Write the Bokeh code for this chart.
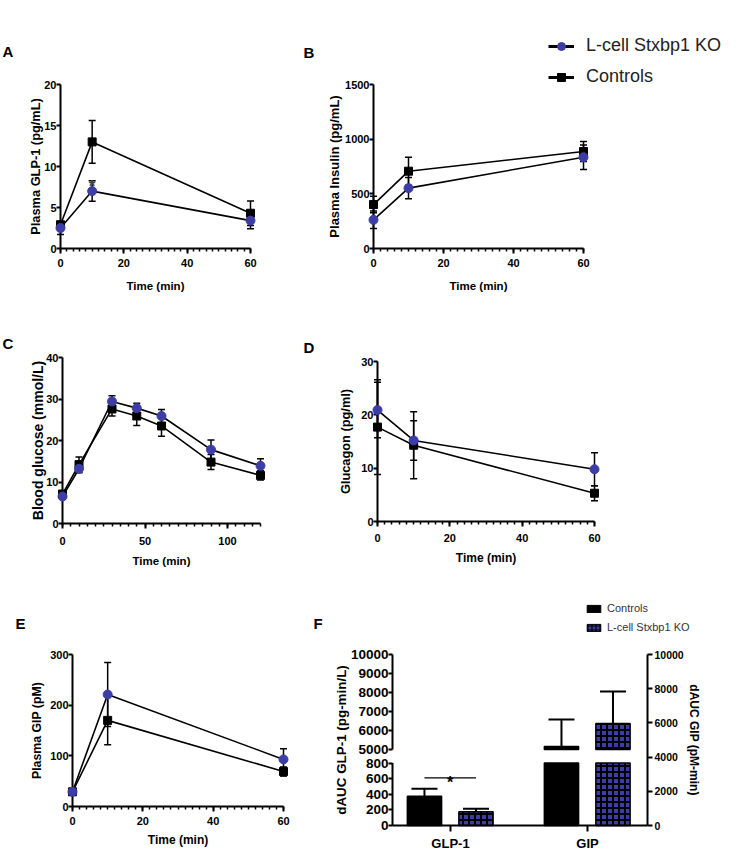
from bokeh.plotting import figure
from bokeh.layouts import column, row
from bokeh.models import (Range1d, SingleIntervalTicker, FixedTicker, Whisker, TeeHead, Label,
                          Legend, LegendItem, ColumnDataSource, LinearAxis)
from bokeh.embed import file_html
from bokeh.resources import INLINE

# ---------------- data ----------------
groups = ["L-cell Stxbp1 KO", "Controls"]
time_short = [0, 10, 60]
time_glucose = [0, 10, 30, 45, 60, 90, 120]

glp1_ko = [2.5, 7.0, 3.4]
glp1_ko_sem = [0.8, 1.25, 1.0]
glp1_ctrl = [2.9, 13.0, 4.3]
glp1_ctrl_sem = [0.3, 2.6, 1.5]

insulin_ko = [262, 552, 835]
insulin_ko_sem = [80, 98, 112]
insulin_ctrl = [402, 707, 887]
insulin_ctrl_sem = [76, 128, 92]

glucose_ko = [6.5, 13.2, 29.4, 27.8, 25.9, 17.8, 13.9]
glucose_ko_sem = [0.6, 1.0, 1.4, 1.2, 1.6, 2.3, 1.7]
glucose_ctrl = [7.1, 14.2, 27.6, 25.9, 23.5, 14.8, 11.6]
glucose_ctrl_sem = [0.5, 1.8, 1.7, 2.3, 2.5, 1.8, 1.1]

glucagon_ko = [20.9, 15.2, 9.8]
glucagon_ko_sem = [5.2, 3.7, 3.1]
glucagon_ctrl = [17.7, 14.3, 5.3]
glucagon_ctrl_sem = [8.9, 6.3, 1.4]

gip_ko = [29, 221, 93]
gip_ko_sem = [3, 63, 21]
gip_ctrl = [29, 170, 69]
gip_ctrl_sem = [3, 48, 9]

auc_categories = ["GLP-1", "GIP"]
auc_axis = ["left", "right"]
auc_ctrl = [375, 4620]
auc_ctrl_sem = [95, 1580]
auc_ko = [175, 5960]
auc_ko_sem = [40, 1870]
glp1_auc_sig_level = 610

glp1_auc_ticks = [0, 200, 400, 600, 800, 5000, 6000, 7000, 8000, 9000, 10000]

# ---------------- style ----------------
BLUE = "#3d3da6"
FONT = "Liberation Sans"
OFF = -1.0e6   # data location of legend-only renderers (outside every view)


def make_panel(ox, oy, w, h, xa0, xa1, x0, x1, yb0, yb1, y0, y1):
    """Figure whose frame fills the whole figure; data x0..x1 sits at pixels xa0..xa1,
    data y0..y1 at pixels yb0 (bottom)..yb1 (top), in page pixels."""
    sx = (xa1 - xa0) / (x1 - x0)
    sy = (yb0 - yb1) / (y1 - y0)
    xr = (x0 - (xa0 - ox) / sx, x1 + (ox + w - xa1) / sx)
    yr = (y0 - (oy + h - yb0) / sy, y1 + (yb1 - oy) / sy)
    p = figure(width=w, height=h, x_range=Range1d(*xr), y_range=Range1d(*yr),
               toolbar_location=None, output_backend="svg",
               min_border=0, min_border_left=0, min_border_right=0,
               min_border_top=0, min_border_bottom=0)
    p.xgrid.visible = False
    p.ygrid.visible = False
    p.outline_line_color = None
    geo = dict(fl=ox, ft=oy, fr=ox + w, fb=oy + h, xr=xr, yr=yr)
    return p, geo


def at(geo, px, py):
    x0, x1 = geo["xr"]
    y0, y1 = geo["yr"]
    x = x0 + (px - geo["fl"]) / (geo["fr"] - geo["fl"]) * (x1 - x0)
    y = y1 - (py - geo["ft"]) / (geo["fb"] - geo["ft"]) * (y1 - y0)
    return x, y


def style_axis(ax, tick_fs, title_fs, label_standoff, title_standoff, tick_out=5):
    ax.axis_line_color = "black"
    ax.axis_line_width = 2
    ax.major_tick_line_color = "black"
    ax.major_tick_line_width = 2
    ax.major_tick_in = 0
    ax.major_tick_out = tick_out
    ax.minor_tick_line_color = "black"
    ax.minor_tick_line_width = 1.5
    ax.minor_tick_in = 0
    ax.minor_tick_out = 3
    ax.major_label_text_font = FONT
    ax.major_label_text_font_style = "bold"
    ax.major_label_text_font_size = f"{tick_fs}px"
    ax.major_label_text_color = "black"
    ax.major_label_standoff = label_standoff
    ax.axis_label_text_font = FONT
    ax.axis_label_text_font_style = "bold"
    ax.axis_label_text_font_size = f"{title_fs}px"
    ax.axis_label_text_color = "black"
    ax.axis_label_standoff = title_standoff


def add_letter(p, geo, letter, px, py):
    lx, ly = at(geo, px, py)
    p.add_layout(Label(x=lx, y=ly, text=letter, text_font=FONT, text_font_style="bold",
                       text_font_size="15px", text_baseline="alphabetic", text_color="black"))


def line_panel(ox, oy, w, h, a0, a1, yb0, yb1, xmax, ymax, xint, yint,
               t, ko, ko_sem, ctrl, ctrl_sem, ylabel, fonts):
    tick_fs, xt_fs, yt_fs, x_lso, x_tso, y_lso, y_tso = fonts
    p, geo = make_panel(ox, oy, w, h, a0, a1, 0, xmax, yb0, yb1, 0, ymax)
    xa = p.xaxis[0]
    ya = p.yaxis[0]
    style_axis(xa, tick_fs, xt_fs, x_lso, x_tso, tick_out=5)
    style_axis(ya, tick_fs, yt_fs, y_lso, y_tso, tick_out=4)
    xa.ticker = SingleIntervalTicker(interval=xint, num_minor_ticks=10)
    xa.bounds = (0, xmax)
    xa.fixed_location = 0
    xa.axis_label = "Time (min)"
    ya.ticker = SingleIntervalTicker(interval=yint, num_minor_ticks=0)
    ya.minor_tick_line_color = None
    ya.bounds = (0, ymax)
    ya.fixed_location = 0
    ya.axis_label = ylabel
    for vals, sem in ((ctrl, ctrl_sem), (ko, ko_sem)):
        src = ColumnDataSource(dict(t=t, lo=[v - e for v, e in zip(vals, sem)],
                                    hi=[v + e for v, e in zip(vals, sem)]))
        p.add_layout(Whisker(source=src, base="t", lower="lo", upper="hi",
                             line_color="black", line_width=1.5, level="glyph",
                             upper_head=TeeHead(size=7, line_width=1.5, line_color="black"),
                             lower_head=TeeHead(size=7, line_width=1.5, line_color="black")))
    p.line(t, ctrl, line_color="black", line_width=1.6)
    p.line(t, ko, line_color="black", line_width=1.6)
    p.scatter(t, ctrl, marker="square", size=8, fill_color="black", line_color="black",
              level="annotation")
    p.scatter(t, ko, marker="circle", size=9, fill_color=BLUE, line_color=BLUE,
              level="annotation")
    return p, geo


# ---------------- A ----------------
pA, gA = line_panel(0, 0, 303, 300, 60, 250, 248, 84, 60, 20, 20, 5,
                    time_short, glp1_ko, glp1_ko_sem, glp1_ctrl, glp1_ctrl_sem,
                    "Plasma GLP-1 (pg/mL)", (11, 11.5, 12.8, 5, 10, 0, -2))
add_letter(pA, gA, "A", 2, 51)
_, sy = at(gA, 0, 186)
pA.add_layout(Label(x=time_short[1], y=sy, text="*", text_font=FONT, text_font_style="bold",
                    text_font_size="17px", text_align="center", text_baseline="alphabetic"))

# ---------------- B ----------------
pB, gB = line_panel(303, 0, 433, 300, 373, 583, 248, 84, 60, 1500, 20, 500,
                    time_short, insulin_ko, insulin_ko_sem, insulin_ctrl, insulin_ctrl_sem,
                    "Plasma Insulin (pg/mL)", (11, 11.5, 13, 5, 10, 0, 0))
add_letter(pB, gB, "B", 303, 52)
lk_line = pB.line([OFF, OFF + 1], [OFF, OFF], line_color="black", line_width=3)
lk_dot = pB.scatter([OFF], [OFF], marker="circle", size=10, fill_color=BLUE, line_color=BLUE)
lc_line = pB.line([OFF, OFF + 1], [OFF, OFF], line_color="black", line_width=3)
lc_sq = pB.scatter([OFF], [OFF], marker="square", size=10, fill_color="black", line_color="black")
legB = Legend(items=[LegendItem(label=groups[0], renderers=[lk_line, lk_dot]),
                     LegendItem(label=groups[1], renderers=[lc_line, lc_sq])],
              location=(548 - gB["fl"], gB["fb"] - 87), glyph_width=26, glyph_height=20,
              label_height=20, spacing=10, label_standoff=12, padding=0, margin=0,
              border_line_color=None, background_fill_alpha=0,
              label_text_font=FONT, label_text_font_size="18px", label_text_color="#222222")
pB.add_layout(legB)

# ---------------- C ----------------
pC, gC = line_panel(0, 300, 303, 300, 62, 260, 523, 357, 120, 40, 50, 10,
                    time_glucose, glucose_ko, glucose_ko_sem, glucose_ctrl, glucose_ctrl_sem,
                    "Blood glucose (mmol/L)", (11, 11.5, 14, 8, 7, 0, -3))
add_letter(pC, gC, "C", 2, 343)

# ---------------- D ----------------
pD, gD = line_panel(303, 300, 433, 300, 377, 594, 521, 361, 60, 30, 20, 10,
                    time_short, glucagon_ko, glucagon_ko_sem, glucagon_ctrl, glucagon_ctrl_sem,
                    "Glucagon (pg/ml)", (11, 12, 12.8, 7, 6, 0, 5))
add_letter(pD, gD, "D", 303, 347)

# ---------------- E ----------------
pE, gE = line_panel(0, 600, 303, 264, 72, 283, 806, 654, 60, 300, 20, 100,
                    time_short, gip_ko, gip_ko_sem, gip_ctrl, gip_ctrl_sem,
                    "Plasma GIP (pM)", (11, 12, 12.3, 5, 5, 0, 3))
add_letter(pE, gE, "E", 15, 623)

# ---------------- F ----------------
GAP_LO = 3649.0   # plotted height of the 800 break, on the GIP (right) scale
GAP_HI = 4444.0   # plotted height of the 5000 break, on the GIP (right) scale
R_MAX = 10000.0


def brk(v):
    if v <= 800:
        return v * GAP_LO / 800.0
    return GAP_HI + (v - 5000.0) * (R_MAX - GAP_HI) / 5000.0


def plot_val(i, v):
    return brk(v) if auc_axis[i] == "left" else v


pF, gF = make_panel(303, 600, 433, 264, 450, 587, 1, 2, 825, 654, 0, R_MAX)
f_loc, _ = at(gF, 392, 825)
f_right, _ = at(gF, 647, 825)
add_letter(pF, gF, "F", 313, 623)

la = pF.yaxis[0]
style_axis(la, 13.5, 13.4, 0, -1, tick_out=4)
tick_pos = [int(round(brk(v))) for v in glp1_auc_ticks]
la.ticker = FixedTicker(ticks=tick_pos, minor_ticks=[])
la.major_label_overrides = {tp: str(v) for tp, v in zip(tick_pos, glp1_auc_ticks)}
la.fixed_location = f_loc
la.bounds = (0, R_MAX)
la.axis_line_color = None
la.minor_tick_line_color = None
la.axis_label = "dAUC GLP-1 (pg-min/L)"
pF.segment(x0=[f_loc, f_loc], y0=[0, GAP_HI], x1=[f_loc, f_loc], y1=[GAP_LO, R_MAX],
           line_color="black", line_width=2)

ra = LinearAxis(ticker=SingleIntervalTicker(interval=2000, num_minor_ticks=0),
                axis_label="dAUC GIP (pM-min)")
style_axis(ra, 10.5, 12, 2, 0, tick_out=5)
ra.minor_tick_line_color = None
ra.fixed_location = f_right
ra.bounds = (0, R_MAX)
pF.add_layout(ra, "right")

xa = pF.xaxis[0]
style_axis(xa, 13, 13, 4, 3, tick_out=6)
xa.ticker = FixedTicker(ticks=[1, 2], minor_ticks=[])
xa.major_label_overrides = {i + 1: c for i, c in enumerate(auc_categories)}
xa.minor_tick_line_color = None
xa.fixed_location = 0
xa.bounds = (f_loc, f_right)

bar_w = 0.25
off_c, off_k = -0.19, 0.186
for vals, sems, off, style in ((auc_ctrl, auc_ctrl_sem, off_c, "ctrl"), (auc_ko, auc_ko_sem, off_k, "ko")):
    xs, bots, tops = [], [], []
    wx, wlo, whi = [], [], []
    for i, (v, e) in enumerate(zip(vals, sems)):
        top = plot_val(i, v)
        x = i + 1 + off
        xs.append(x); bots.append(0); tops.append(min(top, GAP_LO))
        if top > GAP_HI:
            xs.append(x); bots.append(GAP_HI); tops.append(top)
        wx.append(x); wlo.append(top); whi.append(plot_val(i, v + e))
    src = ColumnDataSource(dict(x=xs, bottom=bots, top=tops))
    if style == "ctrl":
        pF.vbar(x="x", bottom="bottom", top="top", width=bar_w, source=src,
                fill_color="black", line_color="black", line_width=1.5)
    else:
        pF.vbar(x="x", bottom="bottom", top="top", width=bar_w, source=src,
                fill_color=BLUE, line_color="black", line_width=1.5,
                hatch_pattern="cross", hatch_color="black", hatch_scale=6, hatch_weight=2)
    wsrc = ColumnDataSource(dict(x=wx, lo=wlo, hi=whi))
    pF.add_layout(Whisker(source=wsrc, base="x", lower="lo", upper="hi", line_color="black",
                          line_width=2, lower_head=None, level="glyph",
                          upper_head=TeeHead(size=26, line_width=2, line_color="black")))

sig_y = plot_val(0, glp1_auc_sig_level)
pF.segment(x0=[1 + off_c], x1=[1 + off_k], y0=[sig_y], y1=[sig_y], line_color="black", line_width=1.2)
_, star_y = at(gF, 0, 782)
pF.add_layout(Label(x=1 + (off_c + off_k) / 2, y=star_y, text="*", text_font=FONT,
                    text_font_style="bold", text_font_size="16px", text_align="center",
                    text_baseline="alphabetic", text_color="black"))

c_leg = pF.vbar(x=[OFF], top=[OFF + 1], bottom=[OFF], width=0.2, fill_color="black", line_color="black")
k_leg = pF.vbar(x=[OFF], top=[OFF + 1], bottom=[OFF], width=0.2, fill_color=BLUE, line_color="black",
                hatch_pattern="cross", hatch_color="black", hatch_scale=4, hatch_weight=1.2)
legF = Legend(items=[LegendItem(label=groups[1], renderers=[c_leg]),
                     LegendItem(label=groups[0], renderers=[k_leg])],
              location=(585 - gF["fl"], gF["fb"] - 633), glyph_width=17, glyph_height=9,
              label_height=12, spacing=7, label_standoff=5, padding=0, margin=0,
              border_line_color=None, background_fill_alpha=0,
              label_text_font=FONT, label_text_font_size="11px", label_text_color="#333333")
pF.add_layout(legF)

layout = column(row(pA, pB), row(pC, pD), row(pE, pF))
open("out.html", "w").write(file_html(layout, INLINE))
